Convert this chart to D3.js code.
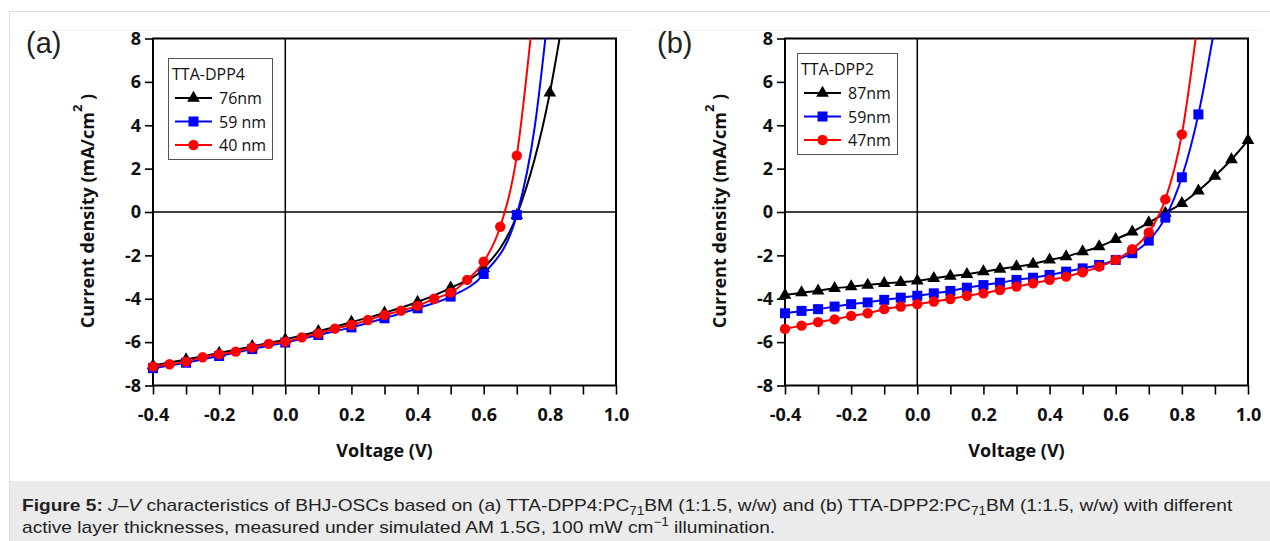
<!DOCTYPE html>
<html>
<head>
<meta charset="utf-8">
<script src="https://cdnjs.cloudflare.com/ajax/libs/d3/7.8.5/d3.min.js"></script>
<style>
body{margin:0;background:#fff;}
#wrap{position:relative;width:1270px;height:541px;overflow:hidden;}
svg{position:absolute;left:0;top:0;}
#cap{position:absolute;left:22px;top:495px;font-family:"Liberation Sans",Arial,sans-serif;font-size:17px;line-height:22px;color:#222;white-space:nowrap;transform:scaleX(1.125);transform-origin:0 0;}
#cap sub,#cap sup{font-size:12px;line-height:0;}
</style>
</head>
<body>
<div id="wrap">
<svg id="fig" width="1270" height="541"></svg>
<div id="cap"><b>Figure 5:</b> <i>J</i>–<i>V</i> characteristics of BHJ-OSCs based on (a) TTA-DPP4:PC<sub>71</sub>BM (1:1.5, w/w) and (b) TTA-DPP2:PC<sub>71</sub>BM (1:1.5, w/w) with different<br>active layer thicknesses, measured under simulated AM 1.5G, 100 mW cm<sup>−1</sup> illumination.</div>
</div>
<script>
// ---- data, panel (a) TTA-DPP4 ----
var a76V = [-0.4,-0.3,-0.2,-0.1,0.0,0.1,0.2,0.3,0.4,0.5,0.6,0.7,0.8];
var a76J = [-7.08,-6.8,-6.5,-6.2,-5.88,-5.5,-5.08,-4.65,-4.15,-3.5,-2.6,-0.15,5.5];
var a76TailV = [0.835];
var a76TailJ = [8.5];

var a59V = [-0.4,-0.3,-0.2,-0.1,0.0,0.1,0.2,0.3,0.4,0.5,0.6,0.7];
var a59J = [-7.2,-6.95,-6.64,-6.32,-6.02,-5.67,-5.32,-4.9,-4.44,-3.9,-2.86,-0.14];
var a59TailV = [0.755,0.79];
var a59TailJ = [4.0,8.5];

var a40V = [-0.4,-0.35,-0.3,-0.25,-0.2,-0.15,-0.1,-0.05,0.0,0.05,0.1,0.15,0.2,0.25,0.3,0.35,0.4,0.45,0.5,0.55,0.6,0.65,0.7];
var a40J = [-7.13,-7.02,-6.9,-6.7,-6.56,-6.44,-6.25,-6.08,-5.98,-5.78,-5.6,-5.38,-5.2,-4.98,-4.75,-4.55,-4.33,-4.0,-3.72,-3.13,-2.29,-0.68,2.6];
var a40TailV = [0.745];
var a40TailJ = [8.5];

// ---- data, panel (b) TTA-DPP2 ----
var b87V = [-0.4,-0.35,-0.3,-0.25,-0.2,-0.15,-0.1,-0.05,0.0,0.05,0.1,0.15,0.2,0.25,0.3,0.35,0.4,0.45,0.5,0.55,0.6,0.65,0.7,0.75,0.8,0.85,0.9,0.95,1.0];
var b87J = [-3.83,-3.72,-3.63,-3.52,-3.44,-3.37,-3.29,-3.24,-3.17,-3.06,-2.95,-2.87,-2.75,-2.63,-2.52,-2.4,-2.21,-2.06,-1.83,-1.6,-1.26,-0.91,-0.49,-0.05,0.4,0.98,1.66,2.42,3.3];
var b87TailV = [];
var b87TailJ = [];

var b59V = [-0.4,-0.35,-0.3,-0.25,-0.2,-0.15,-0.1,-0.05,0.0,0.05,0.1,0.15,0.2,0.25,0.3,0.35,0.4,0.45,0.5,0.55,0.6,0.65,0.7,0.75,0.8,0.85];
var b59J = [-4.67,-4.56,-4.48,-4.36,-4.25,-4.17,-4.05,-3.95,-3.86,-3.75,-3.64,-3.49,-3.37,-3.26,-3.13,-3.03,-2.9,-2.75,-2.6,-2.44,-2.21,-1.9,-1.32,-0.26,1.6,4.5];
var b59TailV = [0.9];
var b59TailJ = [8.6];

var b47V = [-0.4,-0.35,-0.3,-0.25,-0.2,-0.15,-0.1,-0.05,0.0,0.05,0.1,0.15,0.2,0.25,0.3,0.35,0.4,0.45,0.5,0.55,0.6,0.65,0.7,0.75,0.8];
var b47J = [-5.39,-5.24,-5.08,-4.95,-4.79,-4.67,-4.48,-4.36,-4.25,-4.13,-4.01,-3.86,-3.75,-3.6,-3.44,-3.29,-3.13,-2.98,-2.78,-2.52,-2.21,-1.72,-0.94,0.58,3.58];
var b47TailV = [0.85];
var b47TailJ = [9.0];

var xTicks = [-0.4,-0.3,-0.2,-0.1,0.0,0.1,0.2,0.3,0.4,0.5,0.6,0.7,0.8,0.9,1.0];
var yTicks = [-8,-6,-4,-2,0,2,4,6,8];

var svg = d3.select("#fig");

// outer figure frame and caption band
svg.append("rect").attr("x",9.5).attr("y",11.5).attr("width",1300).attr("height",600)
	.attr("fill","#fff").attr("stroke","#dcdcdc").attr("stroke-width",1);
svg.append("rect").attr("x",10).attr("y",481).attr("width",1270).attr("height",70).attr("fill","#ebebeb");
svg.append("line").attr("x1",24).attr("x2",632).attr("y1",30.5).attr("y2",30.5).attr("stroke","#f2f2f2");
svg.append("line").attr("x1",650).attr("x2",1262).attr("y1",30.5).attr("y2",30.5).attr("stroke","#f2f2f2");

// plain hyphen for negative tick labels, as in the original figure
var hy = function(s){ return s.replace("\u2212", "-"); };

function makeSeries(v, j, tv, tj, name, color, shape)
{
	var pts = v.map(function(d, i){ return {v:d, j:j[i]}; });
	var tail = tv.map(function(d, i){ return {v:d, j:tj[i]}; });
	return {pts:pts, line:pts.concat(tail), name:name, color:color, shape:shape};
}

function drawPanel(p)
{
	var x = d3.scaleLinear().domain([-0.4,1.0]).range([p.left, p.right]);
	var y = d3.scaleLinear().domain([-8,8]).range([385.5, 38.5]);
	var g = svg.append("g");

	var clipId = "clip" + p.tag;
	svg.append("clipPath").attr("id", clipId).append("rect")
		.attr("x", p.left).attr("y", 38.5).attr("width", p.right - p.left).attr("height", 347);

	// zero lines
	g.append("line").attr("x1", x(0)).attr("x2", x(0)).attr("y1", y(8)).attr("y2", y(-8))
		.attr("stroke","#000").attr("stroke-width",1.5);
	g.append("line").attr("x1", p.left).attr("x2", p.right).attr("y1", y(0)).attr("y2", y(0))
		.attr("stroke","#000").attr("stroke-width",1.5);

	// axes
	var xAxis = d3.axisBottom(x).tickValues(xTicks).tickSize(9).tickSizeOuter(0)
		.tickFormat(function(d){ var k = Math.round(d*10); return (k % 2 == 0) ? hy(d3.format(".1f")(d)) : ""; });
	var gx = g.append("g").attr("transform","translate(0,385.5)").call(xAxis);
	gx.selectAll("text").attr("y", 23).attr("dy","0.71em");

	var yAxis = d3.axisLeft(y).tickValues(yTicks).tickSize(8).tickSizeOuter(0).tickPadding(4)
		.tickFormat(function(d){ return hy(d3.format("d")(d)); });
	var gy = g.append("g").attr("transform","translate(" + p.left + ",0)").call(yAxis);

	[gx, gy].forEach(function(a){
		a.select(".domain").remove();
		a.selectAll("line").attr("stroke","#000").attr("stroke-width",1.6);
		a.selectAll("text").attr("fill","#111").style("font-family","'Open Sans',sans-serif")
			.style("font-size","18px").style("font-weight","bold");
	});

	g.append("rect").attr("x", p.left).attr("y", 38.5).attr("width", p.right - p.left).attr("height", 347)
		.attr("fill","none").attr("stroke","#000").attr("stroke-width",2);

	// axis titles
	g.append("text").attr("x", (p.left + p.right)/2).attr("y", 457)
		.attr("text-anchor","middle").style("font-family","'Open Sans',sans-serif")
		.style("font-size","18px").style("font-weight","bold").attr("fill","#111")
		.text("Voltage (V)");
	var yt = g.append("text").attr("transform","translate(" + p.ylab + ",211) rotate(-90)")
		.attr("text-anchor","middle").style("font-family","'Open Sans',sans-serif")
		.style("font-size","18px").style("font-weight","bold").attr("fill","#111");
	yt.append("tspan").text("Current density (mA/cm");
	yt.append("tspan").attr("dy",-12).style("font-size","13px").text("2");
	yt.append("tspan").attr("dy",12).text(" )");

	// panel letter
	svg.append("text").attr("x", p.letterX).attr("y", 53)
		.style("font-family","'Liberation Sans',Arial,sans-serif").style("font-size","29px")
		.attr("fill","#222").text(p.letter);

	var line = d3.line().x(function(d){ return x(d.v); }).y(function(d){ return y(d.j); })
		.curve(d3.curveMonotoneX);

	var symType = {tri:d3.symbolTriangle, sq:d3.symbolSquare, circ:d3.symbolCircle};
	var symSize = {tri:70, sq:100, circ:85};

	p.series.forEach(function(s){
		g.append("path").attr("d", line(s.line)).attr("fill","none")
			.attr("stroke", s.color).attr("stroke-width",2).attr("clip-path","url(#" + clipId + ")");
		g.selectAll(null).data(s.pts).enter().append("path")
			.attr("d", d3.symbol().type(symType[s.shape]).size(symSize[s.shape]))
			.attr("transform", function(d){ return "translate(" + x(d.v) + "," + y(d.j) + ")"; })
			.attr("fill", s.color);
	});

	// legend
	var lg = g.append("g");
	lg.append("rect").attr("x", p.lgX + 0.5).attr("y", p.lgY + 0.5).attr("width", p.lgW).attr("height", 101)
		.attr("fill","#fff").attr("stroke","#555").attr("stroke-width",1);
	lg.append("text").attr("x", p.lgX + 4).attr("y", p.lgY + 22)
		.style("font-family","'Open Sans',sans-serif").style("font-size","16px").attr("fill","#111")
		.text(p.title);
	p.series.forEach(function(s, i){
		var ry = p.lgY + 40 + i*23.5;
		lg.append("line").attr("x1", p.lgX + 7).attr("x2", p.lgX + 44).attr("y1", ry).attr("y2", ry)
			.attr("stroke", s.color).attr("stroke-width",2);
		lg.append("path").attr("d", d3.symbol().type(symType[s.shape]).size(symSize[s.shape]))
			.attr("transform","translate(" + (p.lgX + 25.5) + "," + ry + ")").attr("fill", s.color);
		lg.append("text").attr("x", p.lgX + 51).attr("y", ry + 6)
			.style("font-family","'Open Sans',sans-serif").style("font-size","16px").attr("fill","#111")
			.text(s.name);
	});
}

drawPanel({
	tag:"a", left:153, right:616, ylab:94, letter:"(a)", letterX:26,
	title:"TTA-DPP4", lgX:168, lgY:58, lgW:104,
	series:[
		makeSeries(a76V, a76J, a76TailV, a76TailJ, "76nm", "#000", "tri"),
		makeSeries(a59V, a59J, a59TailV, a59TailJ, "59 nm", "#0000ff", "sq"),
		makeSeries(a40V, a40J, a40TailV, a40TailJ, "40 nm", "#ff0000", "circ")
	]
});
drawPanel({
	tag:"b", left:785, right:1248, ylab:726, letter:"(b)", letterX:657,
	title:"TTA-DPP2", lgX:797, lgY:53, lgW:100,
	series:[
		makeSeries(b87V, b87J, b87TailV, b87TailJ, "87nm", "#000", "tri"),
		makeSeries(b59V, b59J, b59TailV, b59TailJ, "59nm", "#0000ff", "sq"),
		makeSeries(b47V, b47J, b47TailV, b47TailJ, "47nm", "#ff0000", "circ")
	]
});
</script>
</body>
</html>
